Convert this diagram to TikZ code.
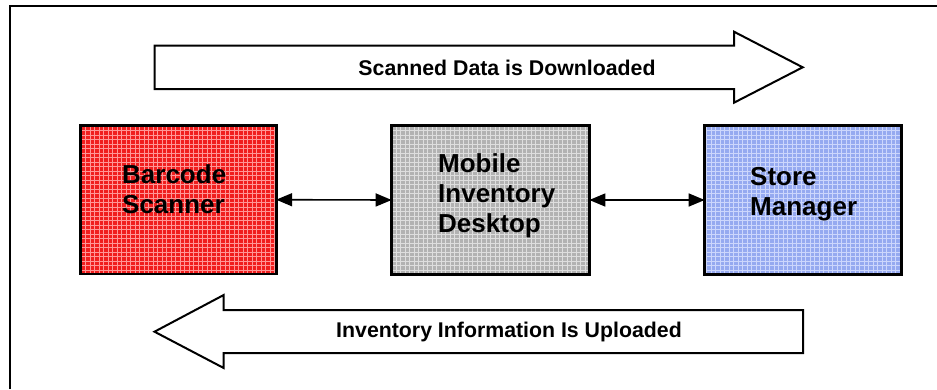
\documentclass[tikz,border=0pt]{standalone}
\usepackage{fontspec}
\setmainfont{Liberation Sans}
\usetikzlibrary{arrows.meta}
\definecolor{redbase}{RGB}{240,30,30}
\definecolor{redgrid}{RGB}{255,150,150}
\definecolor{graybase}{RGB}{178,178,178}
\definecolor{graygrid}{RGB}{222,222,222}
\definecolor{bluebase}{RGB}{150,170,240}
\definecolor{bluegrid}{RGB}{205,215,252}
\tikzset{
  boxnode/.style={draw=black, line width=2.7pt, inner sep=0pt, minimum width=193pt, minimum height=146pt},
  boxtext/.style={font=\fontsize{26}{30}\selectfont\bfseries, align=left, inner sep=0pt, anchor=north west},
  bigarrow/.style={draw=black, line width=2pt, fill=white, line join=miter},
  arrowtext/.style={font=\fontsize{21.3}{25}\selectfont\bfseries, inner sep=0pt},
  link/.style={line width=1.6pt, {Triangle[length=16pt,width=13pt]}-{Triangle[length=16pt,width=13pt]}},
  frameline/.style={line width=2pt, draw=black}
}
\newcommand{\gridfill}[3]{%
  \fill[#2] (#1.south west) rectangle (#1.north east);
  \begin{scope}
    \clip (#1.south west) rectangle (#1.north east);
    \draw[#3, line width=0.6pt, step=4.5pt] (#1.south west) grid (#1.north east);
  \end{scope}
}
\begin{document}
\begin{tikzpicture}[x=1pt,y=-1pt]
\useasboundingbox (0,0) rectangle (937,389);
\fill[white] (0,0) rectangle (937,389);
% frame
\coordinate (fbl) at (9.5,389);
\coordinate (ftl) at (9.5,6);
\coordinate (ftr) at (937,6);
\draw[frameline] (fbl) -- (ftl) -- (ftr);
% boxes
\node[boxnode, minimum width=193pt] (scan) at (178.3,199.7) {};
\node[boxnode, minimum width=195pt] (desk) at (490.5,200) {};
\node[boxnode, minimum width=194pt] (store) at (803,200) {};
\gridfill{scan}{redbase}{redgrid}
\gridfill{desk}{graybase}{graygrid}
\gridfill{store}{bluebase}{bluegrid}
\draw[line width=2.7pt] (scan.south west) rectangle (scan.north east);
\draw[line width=2.7pt] (desk.south west) rectangle (desk.north east);
\draw[line width=2.7pt] (store.south west) rectangle (store.north east);
\node[boxtext] (scant) at (122,164.5) {Barcode\\Scanner};
\node[boxtext] (deskt) at (438,153.5) {Mobile\\Inventory\\Desktop};
\node[boxtext] (storet) at (750,167.5) {Store\\Manager};
% connectors
\draw[link] (scan.east) -- (desk.west);
\draw[link] (desk.east) -- (store.west);
% big arrows
\draw[bigarrow] (154.7,45.7) -- (734,45.7) -- (734,31.7) -- (802.7,67.3) -- (734,102.7) -- (734,89) -- (154.7,89) -- cycle;
\node[arrowtext] (down) at (507,67.5) {Scanned Data is Downloaded};
\draw[bigarrow] (803,310) -- (223.7,310) -- (223.7,295) -- (154.5,331.7) -- (223.7,368) -- (223.7,353) -- (803,353) -- cycle;
\node[arrowtext] (up) at (509,331.5) {Inventory Information Is Uploaded};
\end{tikzpicture}
\end{document}
